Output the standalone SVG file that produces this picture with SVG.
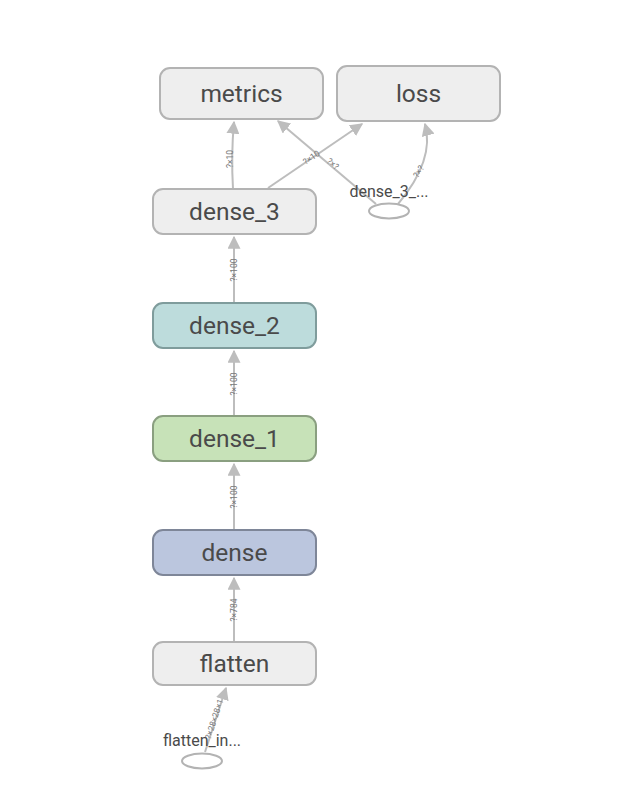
<svg xmlns="http://www.w3.org/2000/svg" width="626" height="811" viewBox="0 0 626 811">
<style>
.node rect{stroke-width:2}
.lbl{font-family:Roboto,"Liberation Sans",sans-serif;font-size:24.5px;fill:#4a4a4a;text-anchor:middle}
.el{font-family:Roboto,"Liberation Sans",sans-serif;font-size:8.5px;fill:#777;text-anchor:middle}
.sl{font-family:Roboto,"Liberation Sans",sans-serif;font-size:16px;fill:#4a4a4a;text-anchor:middle}
.edge{fill:none;stroke:#bdbdbd;stroke-width:2;marker-end:url(#arr)}
.plain{fill:#eeeeee;stroke:#b3b3b3}
</style>
<defs>
<marker id="arr" viewBox="0 0 10 10" refX="9" refY="5" markerWidth="6.5" markerHeight="6.5" orient="auto" markerUnits="strokeWidth">
<path d="M0,0 L10,5 L0,10 Z" fill="#bdbdbd"/>
</marker>
</defs>
<rect width="626" height="811" fill="#ffffff"/>
<g id="edges">
<path class="edge" d="M205,752 L226,688" stroke-width="2.5"/>
<path class="edge" d="M234,642 L234,578"/>
<path class="edge" d="M234,530 L234,464"/>
<path class="edge" d="M234,416 L234,351"/>
<path class="edge" d="M234,303 L234,237"/>
<path class="edge" d="M233,189 Q231,155 234,122"/>
<path class="edge" d="M268,188 L362,124"/>
<path class="edge" d="M376,204 L278,121"/>
<path class="edge" d="M398,204 Q435,160 425,124"/>
<text class="el" transform="translate(217,720) rotate(-72)">?×28×28×1</text>
<text class="el" transform="translate(237,610) rotate(-90)">?×784</text>
<text class="el" transform="translate(237,497) rotate(-90)">?×100</text>
<text class="el" transform="translate(237,384) rotate(-90)">?×100</text>
<text class="el" transform="translate(237,270) rotate(-90)">?×100</text>
<text class="el" transform="translate(233,159) rotate(-90)">?×10</text>
<text class="el" transform="translate(313,160) rotate(-34)">?×10</text>
<text class="el" transform="translate(331,166) rotate(40)">?×?</text>
<text class="el" transform="translate(421,173) rotate(-58)">?×?</text>
</g>
<g id="metrics" class="node"><rect class="plain" x="160" y="68" width="163" height="51" rx="10"/><text class="lbl" x="241.5" y="102">metrics</text></g>
<g id="loss" class="node"><rect class="plain" x="337" y="66" width="163" height="55" rx="10"/><text class="lbl" x="418.5" y="102">loss</text></g>
<g id="dense_3" class="node"><rect class="plain" x="153" y="189" width="163" height="45" rx="10"/><text class="lbl" x="234.5" y="220">dense_3</text></g>
<g id="dense_2" class="node"><rect x="153" y="303" width="163" height="45" rx="10" fill="#bddcdc" stroke="#7f9c9c"/><text class="lbl" x="234.5" y="334">dense_2</text></g>
<g id="dense_1" class="node"><rect x="153" y="416" width="163" height="45" rx="10" fill="#c7e2b8" stroke="#8a9f80"/><text class="lbl" x="234.5" y="447">dense_1</text></g>
<g id="dense" class="node"><rect x="153" y="530" width="163" height="45" rx="10" fill="#bbc6de" stroke="#7e8698"/><text class="lbl" x="234.5" y="561">dense</text></g>
<g id="flatten" class="node"><rect class="plain" x="153" y="642" width="163" height="43" rx="10"/><text class="lbl" x="234.5" y="672">flatten</text></g>
<g id="dense_3_input" class="node"><ellipse cx="389" cy="211" rx="20" ry="7.5" fill="#ffffff" stroke="#b3b3b3" stroke-width="2"/><text class="sl" x="389" y="197">dense_3_...</text></g>
<g id="flatten_input" class="node"><ellipse cx="202" cy="761" rx="20" ry="7.5" fill="#ffffff" stroke="#b3b3b3" stroke-width="2"/><text class="sl" x="202" y="746">flatten_in...</text></g>
</svg>
